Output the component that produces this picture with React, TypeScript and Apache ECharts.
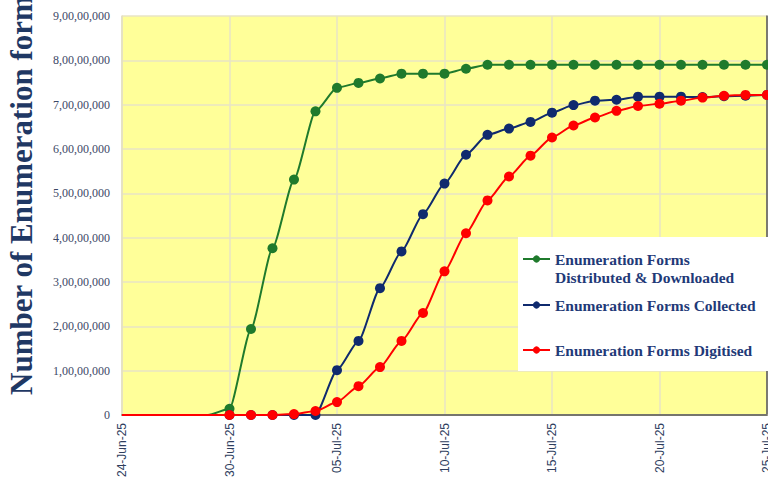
import React, { useEffect, useRef } from "react";
import * as echarts from "echarts";

const categories = [
  "24-Jun-25", "26-Jun-25", "27-Jun-25", "28-Jun-25", "29-Jun-25", "30-Jun-25",
  "01-Jul-25", "02-Jul-25", "03-Jul-25", "04-Jul-25", "05-Jul-25", "06-Jul-25",
  "07-Jul-25", "08-Jul-25", "09-Jul-25", "10-Jul-25", "11-Jul-25", "12-Jul-25",
  "13-Jul-25", "14-Jul-25", "15-Jul-25", "16-Jul-25", "17-Jul-25", "18-Jul-25",
  "19-Jul-25", "20-Jul-25", "21-Jul-25", "22-Jul-25", "23-Jul-25", "24-Jul-25",
  "25-Jul-25",
];

// the first five categories carry no markers in the reference
const hiddenMarkerCount = 5;

const distributed: number[] = [
  0, 0, 0, 0, 0, 1400000,
  19400000, 37600000, 53100000, 68500000, 73800000, 74900000,
  75900000, 77000000, 77000000, 77000000, 78100000, 79000000,
  79000000, 79000000, 79000000, 79000000, 79000000, 79000000,
  79000000, 79000000, 79000000, 79000000, 79000000, 79000000,
  79000000,
];

const collected: number[] = [
  0, 0, 0, 0, 0, 0,
  0, 0, 0, 0, 10100000, 16700000,
  28600000, 36900000, 45300000, 52200000, 58700000, 63200000,
  64600000, 66100000, 68200000, 69900000, 70900000, 71100000,
  71800000, 71800000, 71800000, 71700000, 71900000, 72000000,
  72200000,
];

const digitised: number[] = [
  0, 0, 0, 0, 0, 0,
  0, 0, 200000, 900000, 2900000, 6500000,
  10800000, 16700000, 23000000, 32400000, 41000000, 48400000,
  53800000, 58500000, 62600000, 65300000, 67100000, 68600000,
  69700000, 70200000, 70900000, 71600000, 72000000, 72200000,
  72200000,
];

const seriesNames = [
  "Enumeration Forms Distributed & Downloaded",
  "Enumeration Forms Collected",
  "Enumeration Forms Digitised",
];
const seriesColors = ["#1f7a2c", "#0f2a6e", "#ff0000"];

function indian(v: number): string {
  if (v === 0) return "0";
  const s = String(Math.round(v));
  if (s.length <= 3) return s;
  const last3 = s.slice(-3);
  const rest = s.slice(0, -3).replace(/\B(?=(\d{2})+(?!\d))/g, ",");
  return rest + "," + last3;
}

function toData(arr: number[]) {
  return arr.map((v, i) => (i < hiddenMarkerCount ? { value: v, symbol: "none" } : v));
}

export default function App() {
  const ref = useRef<HTMLDivElement>(null);
  useEffect(() => {
    if (!ref.current) return;
    const chart = echarts.init(ref.current, undefined, { renderer: "svg" });
    const allData = [distributed, collected, digitised];
    const legendTextStyle = {
      color: "#1f3a78",
      fontFamily: "Liberation Serif",
      fontWeight: "bold" as const,
      fontSize: 15.5,
      lineHeight: 18,
    };
    chart.setOption({
      animation: false,
      backgroundColor: "#ffffff",
      grid: {
        left: 122, right: 33, top: 16, bottom: 64, containLabel: false,
        show: true, backgroundColor: "#ffff99", borderWidth: 0,
      },
      xAxis: [
        {
          type: "category",
          data: categories,
          boundaryGap: false,
          axisLine: { show: true, lineStyle: { color: "#d9d5b8", width: 2 } },
          axisTick: { show: false },
          axisLabel: {
            interval: 4,
            rotate: 90,
            color: "#2f3e5e",
            fontFamily: "Liberation Sans",
            fontSize: 12,
            margin: 8,
          },
          splitLine: { show: true, interval: 4, lineStyle: { color: "#e8e4c6", width: 1.5 } },
        },
        {
          type: "category",
          data: categories,
          position: "top",
          boundaryGap: false,
          axisLine: { show: true, lineStyle: { color: "#555555", width: 1.5 } },
          axisTick: { show: false },
          axisLabel: { show: false },
          splitLine: { show: false },
        },
      ],
      yAxis: [
        {
          type: "value",
          min: 0,
          max: 90000000,
          interval: 10000000,
          axisLine: { show: true, lineStyle: { color: "#e3dfc2", width: 1.5 } },
          axisTick: { show: false },
          axisLabel: {
            formatter: (v: number) => indian(v),
            color: "#3c4866",
            fontFamily: "Liberation Serif",
            fontSize: 12,
            margin: 12,
          },
          splitLine: { show: true, lineStyle: { color: "#e8e4c6", width: 1.5 } },
        },
        {
          type: "value",
          position: "right",
          min: 0,
          max: 90000000,
          interval: 10000000,
          axisLine: { show: true, lineStyle: { color: "#555555", width: 1.5 } },
          axisTick: { show: false },
          axisLabel: { show: false },
          splitLine: { show: false },
        },
      ],
      legend: [
        {
          data: [seriesNames[0]],
          orient: "vertical",
          left: 522,
          top: 232,
          padding: 0,
          itemWidth: 27,
          itemHeight: 9,
          formatter: () => " \nEnumeration Forms\nDistributed & Downloaded",
          textStyle: legendTextStyle,
        },
        {
          data: [seriesNames[1]],
          orient: "vertical",
          left: 522,
          top: 296,
          padding: 0,
          itemWidth: 27,
          itemHeight: 9,
          textStyle: legendTextStyle,
        },
        {
          data: [seriesNames[2]],
          orient: "vertical",
          left: 522,
          top: 341,
          padding: 0,
          itemWidth: 27,
          itemHeight: 9,
          textStyle: legendTextStyle,
        },
      ],
      graphic: [
        {
          type: "rect",
          left: 518,
          top: 237,
          z: 3,
          shape: { width: 260, height: 134 },
          style: { fill: "#ffffff" },
        },
        {
          type: "text",
          x: 21,
          y: 395,
          rotation: Math.PI / 2,
          style: {
            text: "Number of Enumeration forms",
            fill: "#1f3864",
            font: "bold 31px 'Liberation Serif'",
            textAlign: "left",
            textVerticalAlign: "middle",
          },
        },
      ],
      series: allData.map((d, i) => ({
        name: seriesNames[i],
        type: "line",
        data: toData(d),
        smooth: 0.2,
        smoothMonotone: "x",
        symbol: "circle",
        symbolSize: 10,
        showAllSymbol: true,
        color: seriesColors[i],
        lineStyle: { color: seriesColors[i], width: 2 },
        itemStyle: { color: seriesColors[i] },
        z: 2 + i,
      })),
    });
    return () => chart.dispose();
  }, []);
  return (
    <div
      ref={ref}
      style={{ position: "fixed", left: 0, top: 0, width: 800, height: 480 }}
    />
  );
}
